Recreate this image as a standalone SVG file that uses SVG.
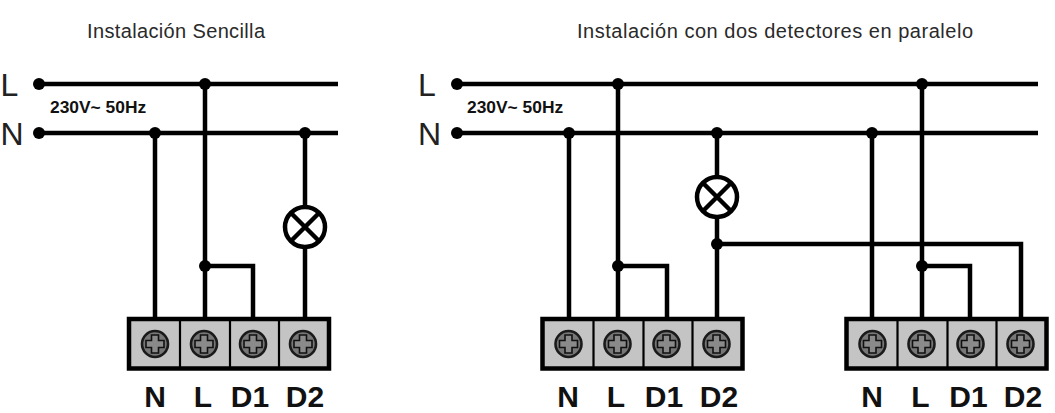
<svg xmlns="http://www.w3.org/2000/svg" width="1055" height="413" viewBox="0 0 1055 413">
<style>
.w{fill:none;stroke:#000;stroke-width:4.5}
.d{fill:#000}
.title{font-family:"Liberation Sans",sans-serif;font-size:20px;fill:#2a2a2a}
.big{font-family:"Liberation Sans",sans-serif;font-size:32px;fill:#222}
.volt{font-family:"Liberation Sans",sans-serif;font-size:17.4px;font-weight:bold;fill:#111}
.term{font-family:"Liberation Sans",sans-serif;font-size:30px;font-weight:bold;fill:#111;text-anchor:middle}
.bx{fill:#c4c4c4;stroke:#000;stroke-width:4.5}
.dv{stroke:#000;stroke-width:2.2}
.sc{fill:#777;stroke:#1a1a1a;stroke-width:2.6}
.cr{fill:#8a8a8a;stroke:#111;stroke-width:1.6}
</style>
<defs>
<g id="screw"><circle class="sc" r="13"/><path class="cr" d="M-3.5-9h7v5.500h5.500v7h-5.500v5.500h-7v-5.500h-5.500v-7h5.500z"/></g>
<g id="lamp"><circle r="20" fill="#fff" stroke="#000" stroke-width="4.5"/><path class="w" d="M-14-14L14 14M-14 14L14-14"/></g>
<g id="block">
<rect class="bx" x="-26" y="-25" width="200" height="49.500"/>
<path class="dv" d="M25-25v50M75-25v50M124-25v50"/>
<use href="#screw" x="0"/><use href="#screw" x="49"/><use href="#screw" x="98"/><use href="#screw" x="148"/>
</g>
</defs>
<g id="connectors">
<path class="w" d="M39 84H338M39 133H338M155 133V319M205 84V319M205 266H253V319M305 133V319"/>
<path class="w" d="M457 84H1038M457 133H1038M569 133V319M618 84V319M618 266H667V319M717 133V319M717 244H1021V319M872 133V319M922 84V319M922 266H970V319"/>
<g class="d">
<circle cx="39" cy="84" r="6"/><circle cx="39" cy="133" r="6"/><circle cx="205" cy="84" r="6"/><circle cx="155" cy="133" r="6"/><circle cx="305" cy="133" r="6"/><circle cx="205" cy="266" r="6"/>
<circle cx="457" cy="84" r="6"/><circle cx="457" cy="133" r="6"/><circle cx="618" cy="84" r="6"/><circle cx="922" cy="84" r="6"/><circle cx="569" cy="133" r="6"/><circle cx="717" cy="133" r="6"/><circle cx="872" cy="133" r="6"/><circle cx="618" cy="266" r="6"/><circle cx="922" cy="266" r="6"/><circle cx="717" cy="244" r="6"/>
</g>
</g>
<g id="lamp-left"><use href="#lamp" x="305" y="227"/></g>
<g id="lamp-mid"><use href="#lamp" x="717" y="197"/></g>
<g id="block-left"><use href="#block" x="155" y="344"/>
<text class="term" x="155" y="407">N</text><text class="term" x="203" y="407">L</text><text class="term" x="250" y="407">D1</text><text class="term" x="305" y="407">D2</text></g>
<g id="block-mid"><use href="#block" x="568.500" y="344"/>
<text class="term" x="568" y="407">N</text><text class="term" x="616" y="407">L</text><text class="term" x="664" y="407">D1</text><text class="term" x="719" y="407">D2</text></g>
<g id="block-right"><use href="#block" x="872.500" y="344"/>
<text class="term" x="872" y="407">N</text><text class="term" x="920.500" y="407">L</text><text class="term" x="968.500" y="407">D1</text><text class="term" x="1023" y="407">D2</text></g>
<g id="labels">
<text class="title" x="87" y="38" textLength="178">Instalación Sencilla</text>
<text class="title" x="577" y="38" textLength="396">Instalación con dos detectores en paralelo</text>
<text class="big" x="0.500" y="96">L</text><text class="big" x="0.500" y="145">N</text>
<text class="big" x="418" y="96">L</text><text class="big" x="418" y="145">N</text>
<text class="volt" x="50" y="113">230V~ 50Hz</text>
<text class="volt" x="467" y="113">230V~ 50Hz</text>
</g>
</svg>
